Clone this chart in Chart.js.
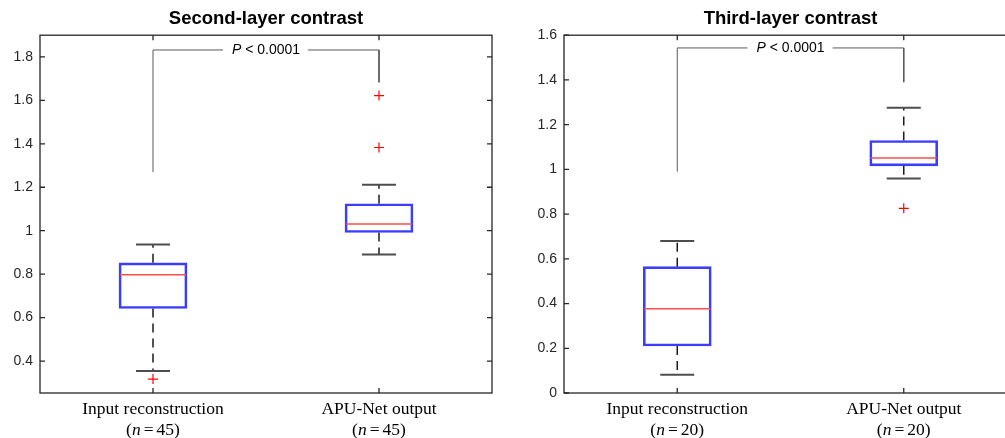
<!DOCTYPE html>
<html>
<head>
<meta charset="utf-8">
<script src="https://cdn.jsdelivr.net/npm/chart.js@4.4.1/dist/chart.umd.min.js"></script>
<style>
  html, body { margin: 0; padding: 0; background: #fff; }
  body { width: 1005px; height: 438px; overflow: hidden; position: relative; }
  canvas { position: absolute; top: 0; }
  #second { left: 0; }
  #third { left: 500px; }
</style>
</head>
<body>
<canvas id="second" width="500" height="438"></canvas>
<canvas id="third" width="525" height="438"></canvas>
<script>
// categories sit at x = 1 and x = 2 (MATLAB boxplot style)
const categories = ["Input reconstruction", "APU-Net output"];
const pText = "P < 0.0001";

// Second-layer contrast: box statistics per category
const secondN = [45, 45];
const secondLower = [0.354, 0.890];
const secondQ1 = [0.642, 0.992];
const secondMedian = [0.797, 1.031];
const secondQ3 = [0.852, 1.124];
const secondUpper = [0.937, 1.212];
const secondOutliers = [[0.317], [1.383, 1.622]];
const secondTicks = [0.4, 0.6, 0.8, 1, 1.2, 1.4, 1.6, 1.8];
const secondRange = [0.253, 1.9];
const secondBracket = [1.27, 1.832, 1.683]; // left foot, top, right foot

// Third-layer contrast
const thirdN = [20, 20];
const thirdLower = [0.082, 0.959];
const thirdQ1 = [0.210, 1.016];
const thirdMedian = [0.377, 1.051];
const thirdQ3 = [0.565, 1.129];
const thirdUpper = [0.680, 1.276];
const thirdOutliers = [[], [0.826]];
const thirdTicks = [0, 0.2, 0.4, 0.6, 0.8, 1, 1.2, 1.4, 1.6];
const thirdRange = [0, 1.6];
const thirdBracket = [0.99, 1.543, 1.39];

const SANS = '"Liberation Sans", Arial, Helvetica, sans-serif';
const SERIF = '"Liberation Serif", "Times New Roman", serif';
const AXIS_COLOR = "#262626";

Chart.defaults.font.family = SANS;

// frame, inward ticks, P label and two-line category labels
const matlabAxes = {
  id: "matlabAxes",
  afterDatasetsDraw(chart, args, opts) {
    const { ctx, chartArea: a } = chart;
    const x = chart.scales.x;
    const y = chart.scales.y;
    ctx.save();

    ctx.strokeStyle = AXIS_COLOR;
    ctx.lineWidth = 1.3;
    ctx.strokeRect(a.left, a.top, a.right - a.left, a.bottom - a.top);
    ctx.beginPath();
    y.ticks.forEach((t) => {
      const py = y.getPixelForValue(t.value);
      ctx.moveTo(a.left, py);
      ctx.lineTo(a.left + 5, py);
      ctx.moveTo(a.right, py);
      ctx.lineTo(a.right - 5, py);
    });
    categories.forEach((c, i) => {
      const px = x.getPixelForValue(i + 1);
      ctx.moveTo(px, a.bottom);
      ctx.lineTo(px, a.bottom - 5);
      ctx.moveTo(px, a.top);
      ctx.lineTo(px, a.top + 5);
    });
    ctx.stroke();

    // P value over the bracket
    const mx = x.getPixelForValue(1.5);
    const my = y.getPixelForValue(opts.bracketTop);
    const pItalic = "italic 14px " + SANS;
    const pNormal = "14px " + SANS;
    ctx.font = pItalic;
    const wP = ctx.measureText("P").width;
    ctx.font = pNormal;
    const rest = pText.slice(1);
    const wRest = ctx.measureText(rest).width;
    const x0 = mx - (wP + wRest) / 2;
    ctx.fillStyle = "#fff";
    ctx.fillRect(x0 - 9, my - 5, wP + wRest + 17, 10);
    ctx.fillStyle = "#000";
    ctx.textBaseline = "middle";
    ctx.textAlign = "left";
    ctx.font = pItalic;
    ctx.fillText("P", x0, my);
    ctx.font = pNormal;
    ctx.fillText(rest, x0 + wP, my);

    // category labels with sample sizes
    const normal = "17.5px " + SERIF;
    const italic = "italic 17.5px " + SERIF;
    categories.forEach((c, i) => {
      const px = x.getPixelForValue(i + 1);
      ctx.font = normal;
      ctx.textAlign = "center";
      ctx.fillText(c, px, a.bottom + 16);
      const parts = [
        ["(", normal, 0],
        ["n", italic, 3],
        ["=", normal, 3],
        [String(opts.n[i]) + ")", normal, 0],
      ];
      let total = 0;
      parts.forEach((p) => {
        ctx.font = p[1];
        p.push(ctx.measureText(p[0]).width);
        total += p[3] + p[2];
      });
      let cx = px - total / 2;
      ctx.textAlign = "left";
      parts.forEach((p) => {
        ctx.font = p[1];
        ctx.fillText(p[0], cx, a.bottom + 37);
        cx += p[3] + p[2];
      });
    });
    ctx.restore();
  },
};

function buildChart(canvasId, title, s) {
  const datasets = [];

  // bracket for the significance label
  datasets.push({
    type: "line",
    data: [
      { x: 1, y: s.bracket[0] },
      { x: 1, y: s.bracket[1] },
      { x: 2, y: s.bracket[1] },
      { x: 2, y: s.bracket[2] },
    ],
    borderColor: "#595959",
    borderWidth: 1,
    pointRadius: 0,
    order: 7,
  });

  // dashed whiskers
  categories.forEach((c, i) => {
    [[s.q3[i], s.upper[i]], [s.q1[i], s.lower[i]]].forEach((seg) => {
      datasets.push({
        type: "line",
        data: [
          { x: i + 1, y: seg[0] },
          { x: i + 1, y: seg[1] },
        ],
        borderColor: "#1a1a1a",
        borderWidth: 1.5,
        borderDash: [9, 6],
        pointRadius: 0,
        order: 6,
      });
    });
  });

  // whisker caps
  datasets.push({
    type: "scatter",
    data: categories.flatMap((c, i) => [
      { x: i + 1, y: s.lower[i] },
      { x: i + 1, y: s.upper[i] },
    ]),
    pointStyle: "line",
    pointRadius: 17,
    borderColor: "#4d4d4d",
    borderWidth: 2,
    order: 5,
  });

  // boxes (q1..q3)
  datasets.push({
    type: "bar",
    data: categories.map((c, i) => ({ x: i + 1, y: [s.q1[i], s.q3[i]] })),
    backgroundColor: "rgba(255,255,255,0)",
    borderColor: "#3c3cff",
    borderWidth: 2,
    borderSkipped: false,
    barThickness: 68,
    order: 4,
  });

  // medians
  datasets.push({
    type: "scatter",
    data: categories.map((c, i) => ({ x: i + 1, y: s.median[i] })),
    pointStyle: "line",
    pointRadius: 33,
    borderColor: "#ff4d4d",
    borderWidth: 1.6,
    order: 2,
  });

  // outliers
  datasets.push({
    type: "scatter",
    data: categories.flatMap((c, i) => s.outliers[i].map((v) => ({ x: i + 1, y: v }))),
    pointStyle: "cross",
    pointRadius: 5,
    borderColor: "#ff0000",
    borderWidth: 1.2,
    order: 1,
  });

  return new Chart(document.getElementById(canvasId), {
    type: "bar",
    data: { datasets: datasets },
    plugins: [matlabAxes],
    options: {
      responsive: false,
      animation: false,
      events: [],
      layout: { autoPadding: false, padding: { top: 0, right: 8, bottom: 0, left: 0 } },
      scales: {
        x: {
          type: "linear",
          min: 0.5,
          max: 2.5,
          offset: false,
          ticks: { display: false },
          grid: { display: false, drawTicks: false },
          border: { display: false },
          afterFit: (scale) => {
            scale.height = 45;
          },
        },
        y: {
          type: "linear",
          min: s.range[0],
          max: s.range[1],
          afterBuildTicks: (scale) => {
            scale.ticks = s.ticks.map((v) => ({ value: v }));
          },
          ticks: {
            callback: (v) => String(parseFloat(Number(v).toFixed(1))),
            font: { size: 14 },
            color: AXIS_COLOR,
            padding: 7,
          },
          grid: { display: false, drawTicks: false },
          border: { display: false },
          afterFit: (scale) => {
            scale.width = s.yWidth;
          },
        },
      },
      plugins: {
        legend: { display: false },
        tooltip: { enabled: false },
        title: {
          display: true,
          text: title,
          fullSize: false,
          color: "#000",
          font: { size: 18.5, weight: "bold" },
          padding: { top: 8, bottom: 5 },
        },
        matlabAxes: { bracketTop: s.bracket[1], n: s.n },
      },
    },
  });
}

buildChart("second", "Second-layer contrast", {
  n: secondN,
  lower: secondLower,
  q1: secondQ1,
  median: secondMedian,
  q3: secondQ3,
  upper: secondUpper,
  outliers: secondOutliers,
  ticks: secondTicks,
  range: secondRange,
  bracket: secondBracket,
  yWidth: 40,
});

buildChart("third", "Third-layer contrast", {
  n: thirdN,
  lower: thirdLower,
  q1: thirdQ1,
  median: thirdMedian,
  q3: thirdQ3,
  upper: thirdUpper,
  outliers: thirdOutliers,
  ticks: thirdTicks,
  range: thirdRange,
  bracket: thirdBracket,
  yWidth: 64,
});
</script>
</body>
</html>
